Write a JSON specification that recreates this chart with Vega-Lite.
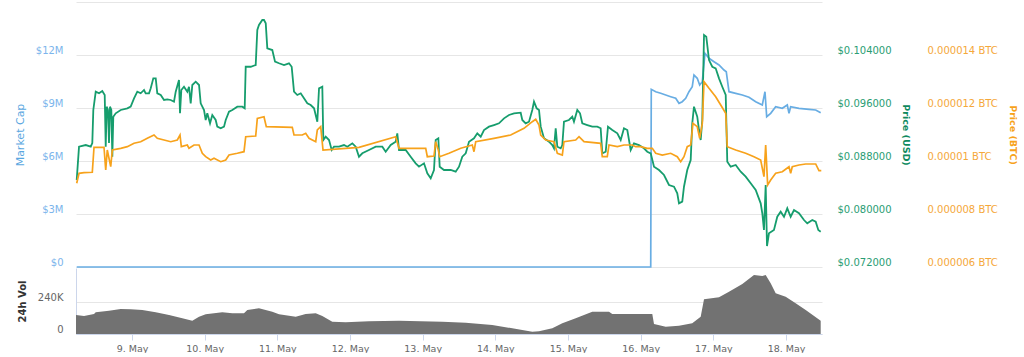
{
"$schema": "https://vega.github.io/schema/vega-lite/v6.json",
"background": "white",
"padding": {"left": 14, "top": 2, "right": 5, "bottom": 0},
"bounds": "flush",
"config": {"view": {"stroke": null}, "font": "DejaVu Sans", "axis": {"labelFont": "DejaVu Sans", "titleFont": "DejaVu Sans"}},
"datasets": {
"mc": [
{"t":"2018-05-08T05:44","v":0},{"t":"2018-05-16T03:19","v":0},{"t":"2018-05-16T03:30","v":10058000},{"t":"2018-05-16T04:58","v":9923000},{"t":"2018-05-16T06:37","v":9832000},{"t":"2018-05-16T08:16","v":9736000},{"t":"2018-05-16T09:55","v":9640000},{"t":"2018-05-16T11:34","v":9549000},{"t":"2018-05-16T12:39","v":9266000},{"t":"2018-05-16T13:44","v":9357000},{"t":"2018-05-16T14:52","v":9549000},{"t":"2018-05-16T15:57","v":9923000},{"t":"2018-05-16T17:02","v":10206000},{"t":"2018-05-16T17:36","v":10868000},{"t":"2018-05-16T18:41","v":10681000},{"t":"2018-05-16T19:29","v":10302000},{"t":"2018-05-16T20:21","v":10489000},{"t":"2018-05-16T21:14","v":12096000},{"t":"2018-05-16T22:34","v":11813000},{"t":"2018-05-17T00:13","v":11621000},{"t":"2018-05-17T01:52","v":11434000},{"t":"2018-05-17T03:31","v":11151000},{"t":"2018-05-17T04:16","v":11055000},{"t":"2018-05-17T05:10","v":9923000},{"t":"2018-05-17T07:23","v":9832000},{"t":"2018-05-17T09:34","v":9736000},{"t":"2018-05-17T11:46","v":9606000},{"t":"2018-05-17T13:59","v":9357000},{"t":"2018-05-17T16:10","v":9170000},{"t":"2018-05-17T17:03","v":9923000},{"t":"2018-05-17T17:37","v":8508000},{"t":"2018-05-17T18:56","v":8700000},{"t":"2018-05-17T20:35","v":9074000},{"t":"2018-05-17T22:46","v":8983000},{"t":"2018-05-18T00:25","v":9170000},{"t":"2018-05-18T00:59","v":8700000},{"t":"2018-05-18T01:32","v":9074000},{"t":"2018-05-18T04:17","v":8983000},{"t":"2018-05-18T07:35","v":8927000},{"t":"2018-05-18T09:48","v":8887000},{"t":"2018-05-18T11:27","v":8734000}
],
"usd": [
{"t":"2018-05-08T05:44","v":0.08513},{"t":"2018-05-08T06:30","v":0.09016},{"t":"2018-05-08T08:43","v":0.09041},{"t":"2018-05-08T10:22","v":0.09016},{"t":"2018-05-08T10:53","v":0.09072},{"t":"2018-05-08T11:13","v":0.0957},{"t":"2018-05-08T12:01","v":0.09846},{"t":"2018-05-08T13:06","v":0.09822},{"t":"2018-05-08T14:11","v":0.09857},{"t":"2018-05-08T14:59","v":0.09796},{"t":"2018-05-08T15:19","v":0.09016},{"t":"2018-05-08T15:38","v":0.0962},{"t":"2018-05-08T16:04","v":0.0957},{"t":"2018-05-08T16:24","v":0.09072},{"t":"2018-05-08T16:44","v":0.0962},{"t":"2018-05-08T17:10","v":0.0957},{"t":"2018-05-08T17:30","v":0.08865},{"t":"2018-05-08T17:49","v":0.09469},{"t":"2018-05-08T18:37","v":0.0952},{"t":"2018-05-08T20:16","v":0.0957},{"t":"2018-05-08T22:27","v":0.09595},{"t":"2018-05-08T23:34","v":0.0962},
{"t":"2018-05-09T00:40","v":0.09746},{"t":"2018-05-09T01:45","v":0.09846},{"t":"2018-05-09T02:52","v":0.09822},{"t":"2018-05-09T03:58","v":0.09872},{"t":"2018-05-09T04:31","v":0.09822},{"t":"2018-05-09T05:37","v":0.09822},{"t":"2018-05-09T06:11","v":0.09897},{"t":"2018-05-09T07:02","v":0.10048},{"t":"2018-05-09T07:50","v":0.10048},{"t":"2018-05-09T08:21","v":0.09822},{"t":"2018-05-09T09:29","v":0.09796},{"t":"2018-05-09T10:34","v":0.09721},{"t":"2018-05-09T11:40","v":0.09731},{"t":"2018-05-09T12:47","v":0.09721},{"t":"2018-05-09T13:52","v":0.09695},{"t":"2018-05-09T14:26","v":0.09846},{"t":"2018-05-09T15:31","v":0.10023},{"t":"2018-05-09T15:51","v":0.0952},{"t":"2018-05-09T16:17","v":0.09872},{"t":"2018-05-09T17:10","v":0.09921},{"t":"2018-05-09T18:16","v":0.09846},{"t":"2018-05-09T18:49","v":0.09921},{"t":"2018-05-09T19:23","v":0.09671},{"t":"2018-05-09T19:55","v":0.09947},{"t":"2018-05-09T21:02","v":0.09997},{"t":"2018-05-09T22:08","v":0.09947},{"t":"2018-05-09T22:41","v":0.09671},{"t":"2018-05-09T23:47","v":0.0957},
{"t":"2018-05-10T00:20","v":0.09419},{"t":"2018-05-10T00:52","v":0.0952},{"t":"2018-05-10T01:46","v":0.09369},{"t":"2018-05-10T02:31","v":0.09494},{"t":"2018-05-10T03:38","v":0.09419},{"t":"2018-05-10T04:10","v":0.09318},{"t":"2018-05-10T05:17","v":0.09294},{"t":"2018-05-10T06:23","v":0.09318},{"t":"2018-05-10T06:57","v":0.09419},{"t":"2018-05-10T08:02","v":0.09544},{"t":"2018-05-10T09:08","v":0.0957},{"t":"2018-05-10T10:47","v":0.0962},{"t":"2018-05-10T12:26","v":0.0962},{"t":"2018-05-10T13:13","v":0.09595},{"t":"2018-05-10T13:33","v":0.10223},{"t":"2018-05-10T15:12","v":0.10223},{"t":"2018-05-10T16:51","v":0.10249},{"t":"2018-05-10T17:23","v":0.10777},{"t":"2018-05-10T17:56","v":0.10853},{"t":"2018-05-10T19:02","v":0.10928},{"t":"2018-05-10T19:35","v":0.10928},{"t":"2018-05-10T20:10","v":0.10878},{"t":"2018-05-10T20:41","v":0.10501},{"t":"2018-05-10T22:20","v":0.10475},{"t":"2018-05-10T23:14","v":0.10299},
{"t":"2018-05-11T00:33","v":0.10275},{"t":"2018-05-11T02:12","v":0.10249},{"t":"2018-05-11T03:51","v":0.10275},{"t":"2018-05-11T04:44","v":0.10223},{"t":"2018-05-11T05:30","v":0.09846},{"t":"2018-05-11T06:35","v":0.09796},{"t":"2018-05-11T07:43","v":0.09822},{"t":"2018-05-11T08:48","v":0.09746},{"t":"2018-05-11T09:54","v":0.09671},{"t":"2018-05-11T11:01","v":0.09645},{"t":"2018-05-11T12:07","v":0.09595},{"t":"2018-05-11T13:12","v":0.09393},{"t":"2018-05-11T13:46","v":0.09897},{"t":"2018-05-11T14:51","v":0.09921},{"t":"2018-05-11T15:11","v":0.09117},{"t":"2018-05-11T15:58","v":0.09167},{"t":"2018-05-11T17:04","v":0.09117},{"t":"2018-05-11T17:57","v":0.08966},{"t":"2018-05-11T18:43","v":0.09016},{"t":"2018-05-11T20:22","v":0.09016},{"t":"2018-05-11T22:01","v":0.09041},{"t":"2018-05-11T23:07","v":0.09016},
{"t":"2018-05-12T00:46","v":0.09067},{"t":"2018-05-12T01:53","v":0.09016},{"t":"2018-05-12T02:58","v":0.08865},{"t":"2018-05-12T04:04","v":0.08916},{"t":"2018-05-12T06:16","v":0.08966},{"t":"2018-05-12T08:29","v":0.09016},{"t":"2018-05-12T10:40","v":0.09016},{"t":"2018-05-12T11:47","v":0.0894},{"t":"2018-05-12T13:26","v":0.09041},{"t":"2018-05-12T15:05","v":0.09091},{"t":"2018-05-12T15:37","v":0.09218},{"t":"2018-05-12T16:11","v":0.08966},{"t":"2018-05-12T18:23","v":0.08966},{"t":"2018-05-12T20:02","v":0.08865},{"t":"2018-05-12T21:41","v":0.08765},{"t":"2018-05-12T22:47","v":0.08714},
{"t":"2018-05-13T00:26","v":0.08765},{"t":"2018-05-13T01:32","v":0.08614},{"t":"2018-05-13T02:39","v":0.08539},{"t":"2018-05-13T03:44","v":0.08664},{"t":"2018-05-13T04:18","v":0.09117},{"t":"2018-05-13T05:10","v":0.09143},{"t":"2018-05-13T05:37","v":0.08714},{"t":"2018-05-13T07:02","v":0.08664},{"t":"2018-05-13T09:15","v":0.08664},{"t":"2018-05-13T10:54","v":0.08639},{"t":"2018-05-13T12:00","v":0.08714},{"t":"2018-05-13T13:05","v":0.08865},{"t":"2018-05-13T14:13","v":0.08916},{"t":"2018-05-13T15:18","v":0.09091},{"t":"2018-05-13T16:57","v":0.09143},{"t":"2018-05-13T18:02","v":0.09218},{"t":"2018-05-13T19:10","v":0.09167},{"t":"2018-05-13T20:15","v":0.09268},{"t":"2018-05-13T21:54","v":0.09318},{"t":"2018-05-13T23:33","v":0.09343},
{"t":"2018-05-14T01:12","v":0.09369},{"t":"2018-05-14T02:52","v":0.09444},{"t":"2018-05-14T04:31","v":0.09494},{"t":"2018-05-14T06:10","v":0.0952},{"t":"2018-05-14T08:22","v":0.09529},{"t":"2018-05-14T08:54","v":0.09419},{"t":"2018-05-14T10:01","v":0.09369},{"t":"2018-05-14T11:07","v":0.09393},{"t":"2018-05-14T12:12","v":0.0957},{"t":"2018-05-14T12:46","v":0.09695},{"t":"2018-05-14T13:39","v":0.09595},{"t":"2018-05-14T14:25","v":0.0957},{"t":"2018-05-14T14:59","v":0.09318},{"t":"2018-05-14T16:04","v":0.09143},{"t":"2018-05-14T17:43","v":0.09091},{"t":"2018-05-14T18:49","v":0.09041},{"t":"2018-05-14T19:22","v":0.08992},{"t":"2018-05-14T19:56","v":0.09294},{"t":"2018-05-14T20:28","v":0.09016},{"t":"2018-05-14T21:35","v":0.08992},{"t":"2018-05-14T22:07","v":0.09041},{"t":"2018-05-14T22:40","v":0.09393},
{"t":"2018-05-15T00:19","v":0.09419},{"t":"2018-05-15T01:25","v":0.09469},{"t":"2018-05-15T01:58","v":0.09393},{"t":"2018-05-15T03:04","v":0.0957},{"t":"2018-05-15T03:58","v":0.0952},{"t":"2018-05-15T04:43","v":0.09369},{"t":"2018-05-15T06:22","v":0.09343},{"t":"2018-05-15T08:01","v":0.09318},{"t":"2018-05-15T09:40","v":0.09318},{"t":"2018-05-15T10:47","v":0.09294},{"t":"2018-05-15T11:19","v":0.08916},{"t":"2018-05-15T12:27","v":0.0894},{"t":"2018-05-15T13:12","v":0.09318},{"t":"2018-05-15T14:37","v":0.09268},{"t":"2018-05-15T16:17","v":0.09218},{"t":"2018-05-15T17:24","v":0.09117},{"t":"2018-05-15T18:29","v":0.09294},{"t":"2018-05-15T19:35","v":0.09268},{"t":"2018-05-15T20:42","v":0.08966},{"t":"2018-05-15T21:47","v":0.09067},{"t":"2018-05-15T23:26","v":0.09041},
{"t":"2018-05-16T01:05","v":0.08992},{"t":"2018-05-16T02:11","v":0.0894},{"t":"2018-05-16T03:19","v":0.08916},{"t":"2018-05-16T04:24","v":0.08714},{"t":"2018-05-16T06:03","v":0.08664},{"t":"2018-05-16T07:42","v":0.08589},{"t":"2018-05-16T09:21","v":0.08438},{"t":"2018-05-16T11:00","v":0.08412},{"t":"2018-05-16T12:05","v":0.08312},{"t":"2018-05-16T12:39","v":0.08161},{"t":"2018-05-16T13:44","v":0.08186},{"t":"2018-05-16T14:18","v":0.08412},{"t":"2018-05-16T15:23","v":0.08664},{"t":"2018-05-16T16:31","v":0.08815},{"t":"2018-05-16T17:02","v":0.09369},{"t":"2018-05-16T17:36","v":0.0962},{"t":"2018-05-16T18:41","v":0.09469},{"t":"2018-05-16T19:16","v":0.09268},{"t":"2018-05-16T19:49","v":0.09117},{"t":"2018-05-16T20:21","v":0.09419},{"t":"2018-05-16T20:55","v":0.10702},{"t":"2018-05-16T21:40","v":0.10676},{"t":"2018-05-16T22:34","v":0.10324},{"t":"2018-05-16T23:39","v":0.10223},
{"t":"2018-05-17T00:46","v":0.10199},{"t":"2018-05-17T01:52","v":0.10048},{"t":"2018-05-17T02:57","v":0.09921},{"t":"2018-05-17T04:05","v":0.09796},{"t":"2018-05-17T04:36","v":0.08789},{"t":"2018-05-17T05:44","v":0.08714},{"t":"2018-05-17T07:23","v":0.0874},{"t":"2018-05-17T09:02","v":0.08639},{"t":"2018-05-17T10:41","v":0.08563},{"t":"2018-05-17T12:20","v":0.08463},{"t":"2018-05-17T13:59","v":0.08362},{"t":"2018-05-17T15:38","v":0.08161},{"t":"2018-05-17T16:10","v":0.08011},{"t":"2018-05-17T16:43","v":0.07758},{"t":"2018-05-17T17:17","v":0.08438},{"t":"2018-05-17T17:43","v":0.07517},{"t":"2018-05-17T18:22","v":0.07709},{"t":"2018-05-17T20:01","v":0.07758},{"t":"2018-05-17T21:07","v":0.07959},{"t":"2018-05-17T22:14","v":0.08035},{"t":"2018-05-17T23:20","v":0.07959},
{"t":"2018-05-18T00:25","v":0.08086},{"t":"2018-05-18T01:32","v":0.07959},{"t":"2018-05-18T02:38","v":0.0806},{"t":"2018-05-18T04:17","v":0.08011},{"t":"2018-05-18T05:56","v":0.07909},{"t":"2018-05-18T07:01","v":0.0786},{"t":"2018-05-18T08:41","v":0.07909},{"t":"2018-05-18T09:48","v":0.07884},{"t":"2018-05-18T10:40","v":0.07758},{"t":"2018-05-18T11:27","v":0.07733}
],
"btc": [
{"t":"2018-05-08T05:44","v":0.000009158},{"t":"2018-05-08T06:30","v":0.000009536},{"t":"2018-05-08T08:09","v":0.000009558},{"t":"2018-05-08T10:53","v":0.000009574},{"t":"2018-05-08T11:27","v":0.000010517},{"t":"2018-05-08T14:45","v":0.000010517},{"t":"2018-05-08T15:19","v":0.00000966},{"t":"2018-05-08T15:50","v":0.000010415},{"t":"2018-05-08T16:58","v":0.000009785},{"t":"2018-05-08T17:30","v":0.000010415},{"t":"2018-05-08T20:16","v":0.000010479},{"t":"2018-05-08T22:27","v":0.00001054},
{"t":"2018-05-09T00:40","v":0.000010668},{"t":"2018-05-09T02:52","v":0.000010728},{"t":"2018-05-09T05:03","v":0.000010857},{"t":"2018-05-09T07:16","v":0.000010981},{"t":"2018-05-09T08:21","v":0.000010857},{"t":"2018-05-09T10:34","v":0.000010792},{"t":"2018-05-09T12:47","v":0.000010728},{"t":"2018-05-09T14:58","v":0.000010792},{"t":"2018-05-09T15:51","v":0.000010981},{"t":"2018-05-09T16:17","v":0.00001054},{"t":"2018-05-09T18:16","v":0.000010604},{"t":"2018-05-09T18:49","v":0.000010479},{"t":"2018-05-09T20:29","v":0.000010604},{"t":"2018-05-09T22:08","v":0.000010604},{"t":"2018-05-09T23:13","v":0.000010291},
{"t":"2018-05-10T00:20","v":0.000010162},{"t":"2018-05-10T01:59","v":0.000010038},{"t":"2018-05-10T03:05","v":0.000010102},{"t":"2018-05-10T05:17","v":0.000009974},{"t":"2018-05-10T06:57","v":0.000010038},{"t":"2018-05-10T08:02","v":0.000010226},{"t":"2018-05-10T10:47","v":0.000010291},{"t":"2018-05-10T12:59","v":0.000010351},{"t":"2018-05-10T13:33","v":0.000010917},{"t":"2018-05-10T16:51","v":0.000010943},{"t":"2018-05-10T17:23","v":0.000011611},{"t":"2018-05-10T19:35","v":0.000011672},{"t":"2018-05-10T20:21","v":0.000011294},
{"t":"2018-05-11T04:56","v":0.000011272},{"t":"2018-05-11T05:30","v":0.000010981},{"t":"2018-05-11T08:14","v":0.000010981},{"t":"2018-05-11T09:22","v":0.000011045},{"t":"2018-05-11T10:28","v":0.000010857},{"t":"2018-05-11T12:40","v":0.000010728},{"t":"2018-05-11T13:12","v":0.00001117},{"t":"2018-05-11T14:19","v":0.000011294},{"t":"2018-05-11T15:05","v":0.000010415},
{"t":"2018-05-12T02:58","v":0.000010517},{"t":"2018-05-12T15:05","v":0.000010917},{"t":"2018-05-12T16:11","v":0.000010479},
{"t":"2018-05-13T01:00","v":0.000010479},{"t":"2018-05-13T01:32","v":0.000010162},{"t":"2018-05-13T03:44","v":0.000010189},{"t":"2018-05-13T04:18","v":0.000010728},{"t":"2018-05-13T05:10","v":0.000010415},{"t":"2018-05-13T05:37","v":0.000010162},{"t":"2018-05-13T08:41","v":0.000010291},{"t":"2018-05-13T12:34","v":0.000010479},{"t":"2018-05-13T16:23","v":0.000010604},{"t":"2018-05-13T16:57","v":0.000010351},{"t":"2018-05-13T17:31","v":0.000010728},{"t":"2018-05-13T23:33","v":0.000010857},
{"t":"2018-05-14T05:04","v":0.000010981},{"t":"2018-05-14T09:28","v":0.000011234},{"t":"2018-05-14T12:12","v":0.000011483},{"t":"2018-05-14T13:20","v":0.000011574},{"t":"2018-05-14T14:25","v":0.000011359},{"t":"2018-05-14T14:59","v":0.000010981},{"t":"2018-05-14T16:38","v":0.000010792},{"t":"2018-05-14T19:22","v":0.000010728},{"t":"2018-05-14T20:28","v":0.000010291},{"t":"2018-05-14T22:07","v":0.000010226},{"t":"2018-05-14T22:40","v":0.000010728},
{"t":"2018-05-15T02:32","v":0.000010792},{"t":"2018-05-15T03:38","v":0.000010917},{"t":"2018-05-15T05:17","v":0.000010728},{"t":"2018-05-15T10:47","v":0.000010668},{"t":"2018-05-15T11:19","v":0.000010162},{"t":"2018-05-15T12:58","v":0.000010162},{"t":"2018-05-15T13:32","v":0.000010604},{"t":"2018-05-15T16:17","v":0.00001054},{"t":"2018-05-15T18:29","v":0.000010604},{"t":"2018-05-15T21:14","v":0.000010604},{"t":"2018-05-15T22:21","v":0.00001054},
{"t":"2018-05-16T00:00","v":0.00001054},{"t":"2018-05-16T02:11","v":0.000010479},{"t":"2018-05-16T03:50","v":0.000010479},{"t":"2018-05-16T04:58","v":0.000010291},{"t":"2018-05-16T07:08","v":0.000010226},{"t":"2018-05-16T09:55","v":0.000010291},{"t":"2018-05-16T12:05","v":0.000010162},{"t":"2018-05-16T13:13","v":0.000009974},{"t":"2018-05-16T14:18","v":0.000010162},{"t":"2018-05-16T15:23","v":0.00001054},{"t":"2018-05-16T16:31","v":0.000010604},{"t":"2018-05-16T17:16","v":0.000011423},{"t":"2018-05-16T18:41","v":0.000011294},{"t":"2018-05-16T19:29","v":0.000010857},{"t":"2018-05-16T20:21","v":0.000011423},{"t":"2018-05-16T20:55","v":0.000012992},{"t":"2018-05-16T22:34","v":0.000012743},
{"t":"2018-05-17T00:46","v":0.000012426},{"t":"2018-05-17T02:26","v":0.000012113},{"t":"2018-05-17T04:05","v":0.0000118},{"t":"2018-05-17T04:36","v":0.00001054},{"t":"2018-05-17T07:23","v":0.000010415},{"t":"2018-05-17T10:41","v":0.000010291},{"t":"2018-05-17T13:25","v":0.000010162},{"t":"2018-05-17T15:38","v":0.000010038},{"t":"2018-05-17T16:43","v":0.000009408},{"t":"2018-05-17T17:17","v":0.000010604},{"t":"2018-05-17T17:56","v":0.000009094},{"t":"2018-05-17T18:56","v":0.000009283},{"t":"2018-05-17T20:35","v":0.000009536},{"t":"2018-05-17T22:46","v":0.000009596},
{"t":"2018-05-18T00:59","v":0.000009785},{"t":"2018-05-18T01:32","v":0.000009536},{"t":"2018-05-18T02:04","v":0.000009785},{"t":"2018-05-18T04:17","v":0.000009849},{"t":"2018-05-18T06:30","v":0.000009887},{"t":"2018-05-18T09:48","v":0.000009887},{"t":"2018-05-18T10:53","v":0.000009634},{"t":"2018-05-18T11:39","v":0.000009634}
],
"vol": [
{"t":"2018-05-08T05:30","v":142500},{"t":"2018-05-08T08:09","v":135000},{"t":"2018-05-08T11:27","v":150000},{"t":"2018-05-08T12:01","v":162500},{"t":"2018-05-08T16:24","v":175000},{"t":"2018-05-08T20:16","v":187500},{"t":"2018-05-08T23:34","v":185000},{"t":"2018-05-09T03:24","v":180000},{"t":"2018-05-09T07:50","v":162500},{"t":"2018-05-09T12:13","v":142500},{"t":"2018-05-09T16:37","v":117500},{"t":"2018-05-09T19:55","v":100000},{"t":"2018-05-09T22:08","v":130000},{"t":"2018-05-10T00:20","v":147500},{"t":"2018-05-10T05:49","v":162500},{"t":"2018-05-10T09:08","v":155000},{"t":"2018-05-10T12:59","v":155000},{"t":"2018-05-10T14:05","v":180000},{"t":"2018-05-10T17:56","v":192500},{"t":"2018-05-10T22:20","v":167500},{"t":"2018-05-11T00:33","v":147500},{"t":"2018-05-11T06:04","v":130000},{"t":"2018-05-11T09:22","v":150000},{"t":"2018-05-11T12:40","v":155000},{"t":"2018-05-11T14:51","v":135000},{"t":"2018-05-11T18:09","v":92500},{"t":"2018-05-11T22:35","v":87500},{"t":"2018-05-12T06:16","v":95000},{"t":"2018-05-12T16:11","v":100000},{"t":"2018-05-13T06:29","v":92500},{"t":"2018-05-13T14:13","v":85000},{"t":"2018-05-13T22:59","v":67500},{"t":"2018-05-14T05:36","v":42500},{"t":"2018-05-14T12:12","v":17500},{"t":"2018-05-14T14:25","v":20000},{"t":"2018-05-14T18:49","v":42500},{"t":"2018-05-14T22:07","v":80000},{"t":"2018-05-15T02:32","v":117500},{"t":"2018-05-15T08:01","v":167500},{"t":"2018-05-15T13:32","v":167500},{"t":"2018-05-15T14:37","v":150000},{"t":"2018-05-16T03:50","v":150000},{"t":"2018-05-16T04:24","v":75000},{"t":"2018-05-16T08:16","v":55000},{"t":"2018-05-16T12:39","v":62500},{"t":"2018-05-16T17:02","v":80000},{"t":"2018-05-16T19:49","v":130000},{"t":"2018-05-16T20:55","v":260000},{"t":"2018-05-17T01:52","v":275000},{"t":"2018-05-17T05:10","v":317500},{"t":"2018-05-17T09:34","v":375000},{"t":"2018-05-17T13:25","v":442500},{"t":"2018-05-17T16:10","v":435000},{"t":"2018-05-17T17:17","v":442500},{"t":"2018-05-17T18:56","v":380000},{"t":"2018-05-17T20:35","v":305000},{"t":"2018-05-17T23:53","v":280000},{"t":"2018-05-18T03:11","v":230000},{"t":"2018-05-18T06:30","v":180000},{"t":"2018-05-18T11:27","v":100000}
]
},
"spacing": 1,
"vconcat": [
{
"width": 746,
"height": 265,
"layer": [
{
"data": {"name": "mc"},
"mark": {"type": "line", "color": "#68ade3", "strokeWidth": 1.7},
"encoding": {
"x": {"field": "t", "type": "temporal", "axis": null, "scale": {"domain": [{"year": 2018, "month": 5, "date": 8, "hours": 5, "minutes": 30}, {"year": 2018, "month": 5, "date": 18, "hours": 11, "minutes": 53}]}},
"y": {"field": "v", "type": "quantitative", "scale": {"domain": [0, 15000000], "nice": false, "zero": false},
"axis": {"orient": "left", "title": "Market Cap", "titleColor": "#5aa7df", "titleFontSize": 11, "titleFontWeight": "normal", "titlePadding": 10, "labelColor": "#7cb5ec", "labelFontSize": 10, "labelPadding": 13, "labelOffset": -5, "ticks": false, "tickSize": 0, "domain": false, "grid": true, "gridColor": "#e6e6e6", "values": [0, 3000000, 6000000, 9000000, 12000000, 15000000], "labelExpr": "datum.value >= 15000000 ? '' : (datum.value == 0 ? '$0' : '$' + (datum.value / 1000000) + 'M')"}}
}
},
{
"data": {"name": "usd"},
"mark": {"type": "line", "color": "#169d6d", "strokeWidth": 1.8},
"encoding": {
"x": {"field": "t", "type": "temporal", "axis": null, "scale": {"domain": [{"year": 2018, "month": 5, "date": 8, "hours": 5, "minutes": 30}, {"year": 2018, "month": 5, "date": 18, "hours": 11, "minutes": 53}]}},
"y": {"field": "v", "type": "quantitative", "scale": {"domain": [0.072, 0.112], "nice": false, "zero": false},
"axis": {"orient": "right", "title": "Price (USD)", "titleColor": "#0f8a5f", "titleFontSize": 9.5, "titleFontWeight": "bold", "titlePadding": 9, "labelColor": "#2a9d74", "labelFontSize": 10, "labelPadding": 15, "labelOffset": -5, "ticks": false, "tickSize": 0, "domain": false, "grid": false, "values": [0.072, 0.08, 0.088, 0.096, 0.104], "labelExpr": "'$' + format(datum.value, '.6f')"}}
}
},
{
"data": {"name": "btc"},
"mark": {"type": "line", "color": "#f7a21b", "strokeWidth": 1.7},
"encoding": {
"x": {"field": "t", "type": "temporal", "axis": null, "scale": {"domain": [{"year": 2018, "month": 5, "date": 8, "hours": 5, "minutes": 30}, {"year": 2018, "month": 5, "date": 18, "hours": 11, "minutes": 53}]}},
"y": {"field": "v", "type": "quantitative", "scale": {"domain": [0.000006, 0.000016], "nice": false, "zero": false},
"axis": {"orient": "right", "offset": 90, "title": "Price (BTC)", "titleColor": "#f7a21b", "titleFontSize": 9.5, "titleFontWeight": "bold", "titlePadding": 10, "labelColor": "#f5a83a", "labelFontSize": 10, "labelPadding": 15, "labelOffset": -5, "ticks": false, "tickSize": 0, "domain": false, "grid": false, "values": [0.000006, 0.000008, 0.00001, 0.000012, 0.000014], "labelExpr": "format(datum.value, '.6~f') + ' BTC'"}}
}
}
],
"resolve": {"scale": {"y": "independent"}}
},
{
"width": 746,
"height": 66,
"data": {"name": "vol"},
"mark": {"type": "area", "color": "#727272", "interpolate": "linear"},
"encoding": {
"x": {"field": "t", "type": "temporal", "scale": {"domain": [{"year": 2018, "month": 5, "date": 8, "hours": 5, "minutes": 30}, {"year": 2018, "month": 5, "date": 18, "hours": 11, "minutes": 53}]},
"axis": {"title": null, "format": "%-d. %b", "tickCount": "day", "labelFontSize": 9.5, "labelColor": "#666666", "labelPadding": 3, "tickColor": "#ccd6eb", "tickSize": 6, "domainColor": "#ccd6eb", "grid": false, "labelFlush": false}},
"y": {"field": "v", "type": "quantitative", "scale": {"domain": [0, 495000], "nice": false},
"axis": {"title": "24h Vol", "titleFontWeight": "bold", "titleFontSize": 10, "titleColor": "#333333", "titlePadding": 10, "values": [0, 240000], "labelExpr": "datum.value == 0 ? '0' : (datum.value / 1000) + 'K'", "labelColor": "#666666", "labelFontSize": 10, "labelOffset": -5, "labelPadding": 13, "ticks": false, "tickSize": 0, "domain": true, "domainColor": "#ccd6eb", "grid": true, "gridColor": "#e6e6e6"}}
}
}
]
}
